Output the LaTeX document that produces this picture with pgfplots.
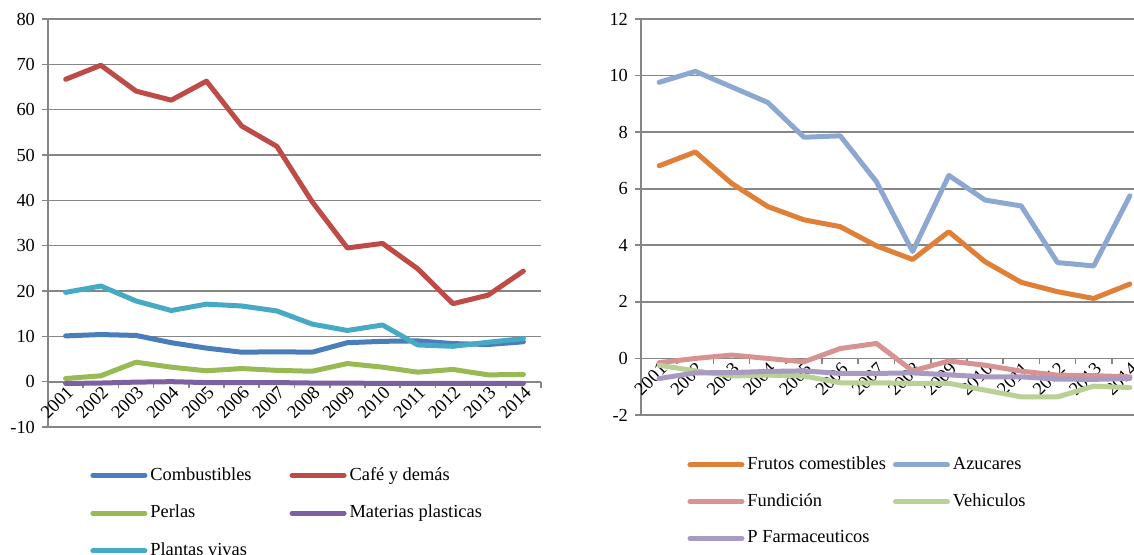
\documentclass[border=0pt]{standalone}
\usepackage{fontspec}
\setmainfont{Liberation Serif}
\usepackage{pgfplots}
\pgfplotsset{compat=1.18}

\definecolor{cComb}{HTML}{4A7EBB}
\definecolor{cCafe}{HTML}{BE4B48}
\definecolor{cPerl}{HTML}{98B954}
\definecolor{cMat}{HTML}{7D60A0}
\definecolor{cPlan}{HTML}{46AAC5}
\definecolor{cFrut}{HTML}{E07F38}
\definecolor{cAzu}{HTML}{8DA8D0}
\definecolor{cFund}{HTML}{D69391}
\definecolor{cVeh}{HTML}{B9D096}
\definecolor{cFarm}{HTML}{A99AC2}
\definecolor{gridgray}{HTML}{868686}

\pgfplotsset{
  excelstyle/.style={
    scale only axis,
    axis x line=middle, axis y line=left,
    axis line style={-, gridgray, line width=0.9pt},
    xmin=-0.5, xmax=13.5,
    xtick={-0.5,0.5,...,13.5},
    xticklabels={},
    extra x ticks={0,1,2,3,4,5,6,7,8,9,10,11,12,13},
    extra x tick labels={2001,2002,2003,2004,2005,2006,2007,2008,2009,2010,2011,2012,2013,2014},
    extra x tick style={major tick length=0pt, xmajorgrids=false},
    tick align=outside,
    major tick length=3pt,
    tick style={gridgray, line width=0.8pt},
    ymajorgrids, xmajorgrids=false,
    grid style={gridgray, line width=0.8pt},
    tick label style={font=\fontsize{9.2}{11}\selectfont, text=black},
    xticklabel style={rotate=45, anchor=north east, inner sep=1pt},
    /pgf/number format/assume math mode=true,
    clip=false,
    legend columns=2,
    legend cell align=left,
    legend image code/.code={\draw[#1, line width=2.5pt, line cap=round] (0pt,0pt) -- (26pt,0pt);},
    every axis plot/.append style={line width=2.5pt, line cap=round, line join=round, mark=none},
  }
}

\begin{document}
\begin{tikzpicture}
\useasboundingbox (0,0) rectangle (567pt,277pt);

% ---------- Left chart ----------
\begin{axis}[excelstyle,
  at={(24pt,63.5pt)}, anchor=south west,
  width=246.5pt, height=204pt,
  ymin=-10, ymax=80, ytick={-10,0,10,20,30,40,50,60,70,80},
  legend style={draw=none, fill=none, at={(0.073,-0.078)}, anchor=north west,
    font=\fontsize{9.2}{11}\selectfont,
    nodes={inner xsep=1.5pt},
    row sep=7pt,
    /tikz/every even column/.append style={column sep=17.5pt}},
]
\addplot[cComb] coordinates {(0,10.1) (1,10.4) (2,10.2) (3,8.6) (4,7.4) (5,6.5) (6,6.6) (7,6.5) (8,8.6) (9,8.9) (10,9.0) (11,8.4) (12,8.2) (13,8.8)};
\addlegendentry{Combustibles}
\addplot[cCafe] coordinates {(0,66.7) (1,69.8) (2,64.1) (3,62.1) (4,66.3) (5,56.4) (6,51.9) (7,39.7) (8,29.5) (9,30.5) (10,24.9) (11,17.2) (12,19.1) (13,24.4)};
\addlegendentry{Café y demás}
\addplot[cPerl] coordinates {(0,0.7) (1,1.3) (2,4.3) (3,3.2) (4,2.4) (5,2.9) (6,2.5) (7,2.3) (8,4.0) (9,3.2) (10,2.1) (11,2.7) (12,1.5) (13,1.6)};
\addlegendentry{Perlas}
\addplot[cMat] coordinates {(0,-0.4) (1,-0.3) (2,-0.1) (3,0.0) (4,-0.2) (5,-0.2) (6,-0.2) (7,-0.3) (8,-0.3) (9,-0.4) (10,-0.4) (11,-0.4) (12,-0.4) (13,-0.4)};
\addlegendentry{Materias plasticas}
\addplot[cPlan] coordinates {(0,19.7) (1,21.1) (2,17.8) (3,15.7) (4,17.1) (5,16.7) (6,15.6) (7,12.7) (8,11.3) (9,12.5) (10,8.1) (11,7.8) (12,8.7) (13,9.5)};
\addlegendentry{Plantas vivas}
\end{axis}

% ---------- Right chart ----------
\begin{axis}[excelstyle,
  at={(320.5pt,69.5pt)}, anchor=south west,
  width=253.5pt, height=198pt,
  ymin=-2, ymax=12, ytick={-2,0,2,4,6,8,10,12},
  legend style={draw=none, fill=none, at={(0.079,-0.085)}, anchor=north west,
    font=\fontsize{9.2}{11}\selectfont,
    nodes={inner xsep=1.5pt},
    row sep=6.5pt,
    /tikz/every even column/.append style={column sep=2pt}},
]
\addplot[cFrut] coordinates {(0,6.81) (1,7.30) (2,6.19) (3,5.37) (4,4.90) (5,4.66) (6,3.98) (7,3.50) (8,4.48) (9,3.42) (10,2.69) (11,2.36) (12,2.12) (13,2.63)};
\addlegendentry{Frutos comestibles}
\addplot[cAzu] coordinates {(0,9.76) (1,10.15) (2,9.60) (3,9.05) (4,7.82) (5,7.87) (6,6.25) (7,3.78) (8,6.47) (9,5.60) (10,5.39) (11,3.39) (12,3.27) (13,5.75)};
\addlegendentry{Azucares}
\addplot[cFund] coordinates {(0,-0.15) (1,0.0) (2,0.12) (3,0.0) (4,-0.12) (5,0.35) (6,0.53) (7,-0.44) (8,-0.09) (9,-0.24) (10,-0.45) (11,-0.59) (12,-0.61) (13,-0.65)};
\addlegendentry{Fundición}
\addplot[cVeh] coordinates {(0,-0.24) (1,-0.44) (2,-0.62) (3,-0.59) (4,-0.62) (5,-0.86) (6,-0.86) (7,-0.88) (8,-0.88) (9,-1.12) (10,-1.36) (11,-1.36) (12,-0.98) (13,-1.03)};
\addlegendentry{Vehiculos}
\addplot[cFarm] coordinates {(0,-0.71) (1,-0.51) (2,-0.50) (3,-0.46) (4,-0.44) (5,-0.53) (6,-0.53) (7,-0.51) (8,-0.58) (9,-0.65) (10,-0.65) (11,-0.73) (12,-0.74) (13,-0.71)};
\addlegendentry{P Farmaceuticos}
\end{axis}
\end{tikzpicture}
\end{document}
